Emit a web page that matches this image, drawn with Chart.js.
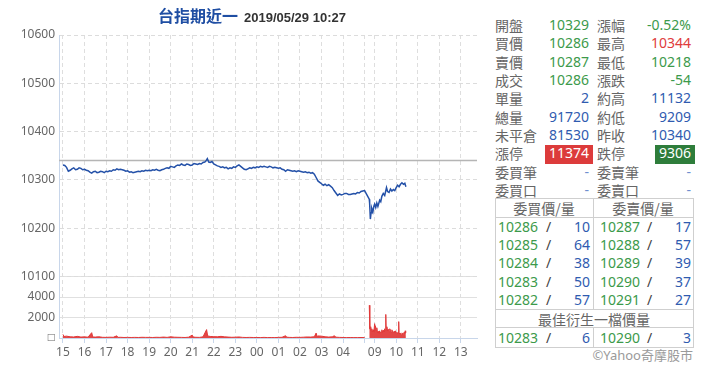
<!DOCTYPE html>
<html><head><meta charset="utf-8">
<script src="https://cdn.jsdelivr.net/npm/chart.js@4.4.0/dist/chart.umd.min.js"></script>
<style>
html,body{margin:0;padding:0;background:#fff;width:720px;height:380px;overflow:hidden;font-family:"Noto Sans","Noto Sans CJK TC",sans-serif;}
#wrap{position:absolute;left:0;top:0;width:490px;height:380px;}
#title{position:absolute;left:158px;top:5px;line-height:20px;white-space:nowrap;}
#title .t1{font-family:"Noto Sans CJK TC",sans-serif;font-weight:bold;font-size:16px;color:#1f4ea3;}
#title .t2{font-family:"Liberation Sans",Arial,sans-serif;font-weight:bold;font-size:13px;color:#333;margin-left:6px;}
.c{position:absolute;white-space:nowrap;font-size:14px;height:18px;line-height:18px;}
.lab{color:#666;font-family:"Noto Sans CJK TC",sans-serif;}
.g{color:#3c9a4b;} .b{color:#2f5bb0;} .r{color:#e03c3c;} .d{color:#6f8fd0;}
.box{position:absolute;}
.ln{position:absolute;background:#cfcfcf;}
</style></head>
<body>
<div id="wrap"><canvas id="cv"></canvas></div>
<div id="title"><span class="t1">台指期近一</span><span class="t2">2019/05/29 10:27</span></div>
<div id="panel"></div>
<script>
// ---------- data ----------
const priceTimes = [
 '15:00','15:05','15:10','15:15','15:20','15:25','15:30','15:35','15:40','15:45','15:50','15:55',
 '16:00','16:05','16:10','16:15','16:20','16:25','16:30','16:35','16:40','16:45','16:50','16:55',
 '17:00','17:05','17:10','17:15','17:20','17:25','17:30','17:35','17:40','17:45','17:50','17:55',
 '18:00','18:05','18:10','18:15','18:20','18:25','18:30','18:35','18:40','18:45','18:50','18:55',
 '19:00','19:05','19:10','19:15','19:20','19:25','19:30','19:35','19:40','19:45','19:50','19:55',
 '20:00','20:05','20:10','20:15','20:20','20:25','20:30','20:35','20:40','20:45','20:50','20:55',
 '21:00','21:05','21:10','21:15','21:20','21:25','21:30','21:35','21:38','21:42','21:46','21:50','21:55',
 '22:00','22:05','22:10','22:15','22:20','22:25','22:30','22:35','22:40','22:45','22:50','22:55',
 '23:00','23:05','23:10','23:15','23:20','23:25','23:30','23:35','23:40','23:45','23:50','23:55',
 '00:00','00:05','00:10','00:15','00:20','00:25','00:30','00:35','00:40','00:45','00:50','00:55',
 '01:00','01:05','01:10','01:15','01:20','01:25','01:30','01:35','01:40','01:45','01:50','01:55',
 '02:00','02:05','02:10','02:15','02:20','02:25','02:30','02:35','02:40','02:45','02:50','02:55',
 '03:00','03:05','03:10','03:15','03:20','03:25','03:30','03:35','03:40','03:45','03:50','03:55',
 '04:00','04:05','04:10','04:15','04:20','04:25','04:30','04:35','04:40','04:45','04:50','04:55','05:00',
 '08:45','08:46','08:48','08:50','08:52','08:55','08:58','09:00','09:03','09:06','09:09','09:14','09:17','09:20','09:24','09:28','09:33','09:36','09:40','09:44','09:48','09:52','09:56','10:00','10:04','10:08','10:12','10:16','10:20','10:24','10:27'];
const priceValues = [
 10331,10330,10326,10318,10320,10323,10325,10321,10322,10325,10324,10321,
 10322,10320,10319,10316,10314,10317,10318,10315,10316,10318,10317,10315,
 10318,10317,10319,10318,10321,10320,10323,10321,10322,10321,10320,10318,
 10319,10316,10317,10315,10316,10317,10318,10317,10319,10318,10320,10319,
 10320,10319,10321,10320,10322,10320,10319,10321,10322,10324,10325,10324,
 10328,10327,10326,10329,10331,10330,10333,10331,10330,10333,10332,10330,
 10331,10334,10333,10332,10334,10333,10336,10337,10339,10344,10337,10336,10338,
 10333,10331,10329,10328,10326,10327,10325,10326,10323,10325,10324,10327,
 10326,10329,10331,10328,10325,10322,10321,10323,10325,10324,10326,10325,
 10327,10326,10328,10327,10328,10327,10326,10328,10327,10325,10326,10325,
 10324,10325,10322,10321,10318,10321,10320,10319,10318,10319,10317,10319,
 10318,10317,10316,10317,10315,10316,10314,10315,10312,10305,10298,10295,
 10292,10289,10291,10288,10290,10287,10284,10278,10273,10268,10271,10269,
 10270,10272,10272,10270,10270,10271,10272,10271,10274,10273,10276,10277,10278,
 10260,10252,10219,10232,10241,10234,10246,10250,10243,10252,10245,10258,10255,10266,10272,10268,10284,10276,10274,10281,10277,10280,10278,10284,10289,10286,10291,10294,10291,10293,10286];
const volTimes = ['15:00','15:03','15:10','15:20','15:30','15:40','15:50','16:00','16:10','16:20','16:23','16:30','16:40','16:50','17:00','17:10','17:20','17:30','17:33','17:40','17:50','18:00','18:10','18:20','18:30','18:40','18:50','19:00','19:10','19:20','19:30','19:40','19:50','20:00','20:10','20:20','20:30','20:40','20:50','21:00','21:03','21:10','21:20','21:30','21:40','21:43','21:50','22:00','22:10','22:20','22:30','22:40','22:50','23:00','23:10','23:20','23:30','23:40','23:50','00:00','00:10','00:20','00:30','00:40','00:50','01:00','01:10','01:20','01:23','01:30','01:40','01:50','02:00','02:10','02:20','02:30','02:40','02:45','02:48','02:50','03:00','03:10','03:20','03:30','03:36','03:40','03:50','04:00','04:10','04:20','04:30','04:40','04:50','05:00','05:01',
  '08:45','08:46','08:47','08:48','08:49','08:50','08:52','08:54','08:56','08:58','09:00','09:01','09:02','09:04','09:06','09:08','09:10','09:12','09:14','09:16','09:18','09:20','09:22','09:24','09:26','09:28','09:30','09:31','09:32','09:34','09:36','09:38','09:40','09:42','09:44','09:46','09:48','09:50','09:52','09:54','09:56','09:58','10:00','10:02','10:04','10:06','10:07','10:08','10:10','10:12','10:14','10:16','10:18','10:20','10:22','10:24','10:25','10:26','10:27'];
const volValues = [350,150,180,120,100,160,90,110,80,520,100,90,120,70,60,80,70,210,60,70,50,60,50,60,50,70,60,60,50,70,60,90,60,120,80,70,60,50,80,280,90,70,60,110,820,200,150,130,120,160,110,90,70,80,100,60,50,60,50,50,40,60,40,50,40,60,70,220,80,60,50,70,60,80,100,90,120,480,150,200,180,120,90,110,220,80,60,50,40,50,40,40,50,40,null,
  3200,900,1000,800,1100,700,900,600,800,650,1400,900,1200,700,1000,500,650,450,700,500,600,800,550,750,600,900,700,2300,900,1100,700,850,600,900,750,550,800,600,450,650,500,700,450,550,400,600,1600,500,350,450,300,500,400,350,550,450,700,500,650];
const prevClose = 10340;
const xTickTimes  = ['15:00','16:00','17:00','18:00','19:00','20:00','21:00','22:00','23:00','00:00','01:00','02:00','03:00','04:00','05:00','09:00','10:00','11:00','12:00','13:00'];
const xTickLabels = ['15','16','17','18','19','20','21','22','23','00','01','02','03','04','','09','10','11','12','13'];
const priceTicks = [10100,10200,10300,10400,10500,10600];
const volTicks = [0,2000,4000,6000];
const volTickLabels = ['□','2000','4000',''];

const quoteLeftLabels  = ['開盤','買價','賣價','成交','單量','總量','未平倉','漲停','委買筆','委買口'];
const quoteLeftValues  = ['10329','10286','10287','10286','2','91720','81530','11374','-','-'];
const quoteLeftColors  = ['g','g','g','g','b','b','b','up','d','d'];
const quoteRightLabels = ['漲幅','最高','最低','漲跌','約高','約低','昨收','跌停','委賣筆','委賣口'];
const quoteRightValues = ['-0.52%','10344','10218','-54','11132','9209','10340','9306','-','-'];
const quoteRightColors = ['g','r','g','g','b','b','b','down','d','d'];
const bidPrices = ['10286','10285','10284','10283','10282'];
const bidQty    = ['10','64','38','50','57'];
const askPrices = ['10287','10288','10289','10290','10291'];
const askQty    = ['17','57','39','37','27'];
const bestBid = ['10283','6'];
const bestAsk = ['10290','3'];

// ---------- time axis mapping (night session 15:00-05:00, day session 08:45-13:45) ----------
function tx(t){
  const [h,m] = t.split(':').map(Number);
  if (h >= 15) return (h-15)*60 + m;
  if (h < 8) return (h+9)*60 + m;
  return 868 + (h-9)*60 + m;
}
const tickMap = {};
xTickTimes.forEach((t,i)=>{ tickMap[tx(t)] = xTickLabels[i]; });

const priceData = priceTimes.map((t,i)=>({x:tx(t), y:priceValues[i]}));
const volData = volTimes.map((t,i)=>({x:tx(t), y:volValues[i]}));
const X_MIN = -11, X_MAX = 1153;

Chart.defaults.font.family = '"Noto Sans", sans-serif';
new Chart(document.getElementById('cv'), {
  type: 'line',
  data: { datasets: [
    { data: priceData, yAxisID:'price', borderColor:'#2451a8', borderWidth:1.5, pointRadius:0, tension:0, order:0 },
    { data: [{x:X_MIN,y:prevClose},{x:X_MAX,y:prevClose}], yAxisID:'price', borderColor:'#b5b5b5', borderWidth:1.5, pointRadius:0, order:1 },
    { data: volData, yAxisID:'vol', borderColor:'#e03a3a', backgroundColor:'rgba(224,54,54,0.92)', borderWidth:1, pointRadius:0, fill:'origin', spanGaps:false, tension:0, order:2 }
  ]},
  options: {
    responsive:true, maintainAspectRatio:false, animation:false,
    layout:{ padding:{ left:0, right:13, top:35, bottom:0 } },
    plugins:{ legend:{display:false}, tooltip:{enabled:false}, title:{display:false} },
    scales:{
      x:{ type:'linear', min:X_MIN, max:X_MAX,
        afterBuildTicks:(s)=>{ s.ticks = xTickTimes.map(t=>({value:tx(t)})); },
        afterFit:(s)=>{ s.height = 42; },
        grid:{ color:'#dedede', drawTicks:true, tickLength:5, tickColor:'#c8d6ea', tickBorderDash:[] },
        border:{ color:'#c8d6ea', dash:[4,3] },
        ticks:{ color:'#666', font:{size:12}, padding:2, autoSkip:false, maxRotation:0,
          callback:(v)=> (tickMap[v] !== undefined ? tickMap[v] : '') } },
      vol:{ type:'linear', position:'left', stack:'s', stackWeight:1, min:0, max:6000,
        afterBuildTicks:(s)=>{ s.ticks = volTicks.map(v=>({value:v})); },
        afterFit:(s)=>{ s.width = 59; },
        grid:{ color:'#e0e0e0', drawTicks:false },
        border:{ color:'#c8d6ea' },
        ticks:{ color:'#666', font:{size:12}, padding:4, autoSkip:false,
          callback:(v)=>{ const i = volTicks.indexOf(v); return i>=0 ? volTickLabels[i] : ''; } } },
      price:{ type:'linear', position:'left', stack:'s', stackWeight:3.93, min:10100, max:10600,
        afterBuildTicks:(s)=>{ s.ticks = priceTicks.map(v=>({value:v})); },
        afterFit:(s)=>{ s.width = 59; },
        grid:{ color:'#dcdcdc', drawTicks:false },
        border:{ color:'#c8d6ea', dash:[4,3] },
        ticks:{ color:'#666', font:{size:12}, padding:4, autoSkip:false, callback:(v)=> String(v) } }
    }
  }
});

// ---------- right panel ----------
const panel = document.getElementById('panel');
function add(html, css, cls){ const d=document.createElement('div'); d.className=cls||'c'; d.innerHTML=html; d.style.cssText=css; panel.appendChild(d); return d; }
const rowTop = 16, rowH = 18.33;
for (let i=0;i<quoteLeftLabels.length;i++){
  const top = rowTop + i*rowH;
  add(quoteLeftLabels[i], `left:495px;top:${top}px;`, 'c lab');
  add(quoteRightLabels[i], `left:597px;top:${top}px;`, 'c lab');
  const lc = quoteLeftColors[i], rc = quoteRightColors[i];
  if (lc === 'up') {
    add('', `left:545px;top:${top+0.5}px;width:48px;height:19px;background:#dc3b3b;`, 'box');
    add(quoteLeftValues[i], `right:${720-589}px;top:${top}px;color:#fff;`, 'c');
  } else add(quoteLeftValues[i], `right:${720-589}px;top:${top}px;`, 'c '+lc);
  if (rc === 'down') {
    add('', `left:655px;top:${top+0.5}px;width:40px;height:19px;background:#2e7d3b;`, 'box');
    add(quoteRightValues[i], `right:${720-691}px;top:${top}px;color:#fff;`, 'c');
  } else add(quoteRightValues[i], `right:${720-691}px;top:${top}px;`, 'c '+rc);
}
// order book table
const tL=495, tR=693, tMid=593, tTop=198, hdrB=217, rowsB=309, bestB=327, tBot=347;
add('', `left:${tL}px;top:${tTop}px;width:${tR-tL}px;height:1px;`, 'ln');
add('', `left:${tL}px;top:${hdrB}px;width:${tR-tL}px;height:1px;`, 'ln');
add('', `left:${tL}px;top:${rowsB}px;width:${tR-tL}px;height:1px;`, 'ln');
add('', `left:${tL}px;top:${bestB}px;width:${tR-tL}px;height:1px;`, 'ln');
add('', `left:${tL}px;top:${tBot}px;width:${tR-tL}px;height:1px;`, 'ln');
add('', `left:${tL}px;top:${tTop}px;width:1px;height:${tBot-tTop}px;`, 'ln');
add('', `left:${tR}px;top:${tTop}px;width:1px;height:${tBot-tTop+1}px;`, 'ln');
add('', `left:${tMid}px;top:${tTop}px;width:1px;height:${rowsB-tTop}px;`, 'ln');
add('', `left:${tMid}px;top:${bestB}px;width:1px;height:${tBot-bestB}px;`, 'ln');
add('委買價/量', `left:${tL}px;width:${tMid-tL}px;text-align:center;top:${tTop+0.5}px;`, 'c lab');
add('委賣價/量', `left:${tMid}px;width:${tR-tMid}px;text-align:center;top:${tTop+0.5}px;`, 'c lab');
const obH = (rowsB-hdrB)/5;
for (let i=0;i<5;i++){
  const top = hdrB + 1 + i*obH - 0.5;
  add(bidPrices[i], `left:498px;top:${top}px;`, 'c g');
  add('/', `left:546px;top:${top}px;color:#444;`, 'c');
  add(bidQty[i], `right:${720-590}px;top:${top}px;`, 'c b');
  add(askPrices[i], `left:600px;top:${top}px;`, 'c g');
  add('/', `left:647px;top:${top}px;color:#444;`, 'c');
  add(askQty[i], `right:${720-691}px;top:${top}px;`, 'c b');
}
add('最佳衍生一檔價量', `left:${tL}px;width:${tR-tL}px;text-align:center;top:${rowsB+0.5}px;`, 'c lab');
add(bestBid[0], `left:498px;top:${bestB+1.5}px;`, 'c g');
add('/', `left:546px;top:${bestB+1.5}px;color:#444;`, 'c');
add(bestBid[1], `right:${720-590}px;top:${bestB+1.5}px;`, 'c b');
add(bestAsk[0], `left:600px;top:${bestB+1.5}px;`, 'c g');
add('/', `left:647px;top:${bestB+1.5}px;color:#444;`, 'c');
add(bestAsk[1], `right:${720-691}px;top:${bestB+1.5}px;`, 'c b');
add('©Yahoo奇摩股市', `right:${720-693}px;top:${346}px;font-size:13px;color:#9a9a9a;`, 'c');
</script>
</body></html>
